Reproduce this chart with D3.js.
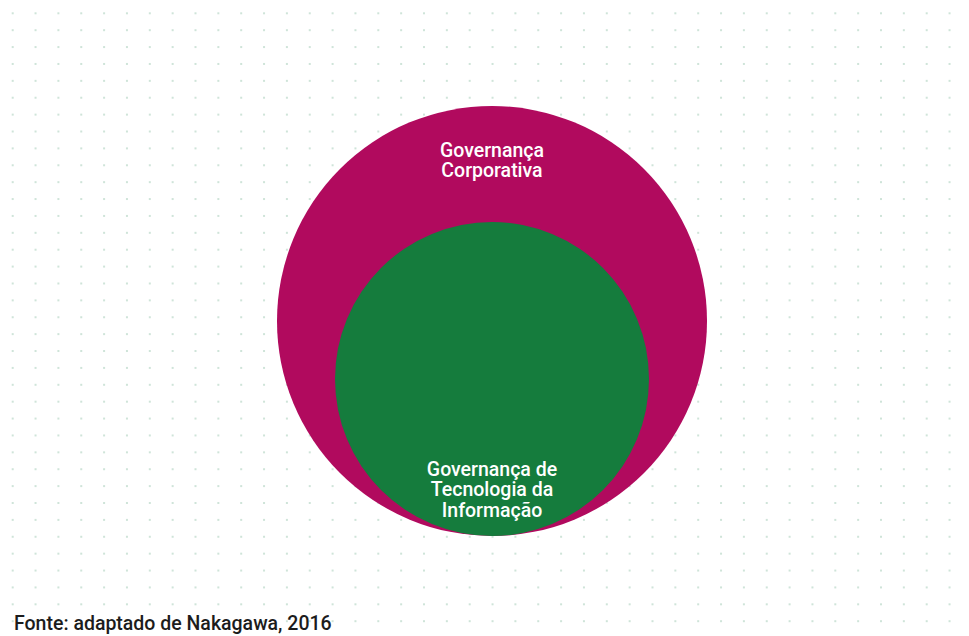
<!DOCTYPE html>
<html>
<head>
<meta charset="utf-8">
<script src="https://cdn.jsdelivr.net/npm/d3@7"></script>
<style>
  body { margin: 0; background: #fff; }
  svg { display: block; }
</style>
</head>
<body>
<div id="chart"></div>
<script>
// nested sets: outer = corporate governance, inner = IT governance
var circleNames = ["Governança Corporativa", "Governança de Tecnologia da Informação"];
var circleCx = [492, 492];
var circleCy = [321, 379];
var circleR = [215, 157];
var circleColors = ["#b10a5e", "#157c3d"];
var labelLines = [["Governança", "Corporativa"], ["Governança de", "Tecnologia da", "Informação"]];
var labelY = [157, 476];
var sourceText = "Fonte: adaptado de Nakagawa, 2016";

var svgWidth = 969;
var svgHeight = 636;

var svg = d3.select("#chart")
    .append("svg")
    .attr("width", svgWidth)
    .attr("height", svgHeight);

// dotted background grid
var dotCols = d3.range(43);
var dotRows = d3.range(37);
var xDot = d3.scaleLinear().domain([0, 42]).range([12.7, 972.4]);
var yDot = d3.scaleLinear().domain([0, 36]).range([13.3, 621.2]);

var dots = [];
dotRows.forEach(function(r) {
    dotCols.forEach(function(c) { dots.push({r: r, c: c}); });
});

svg.append("g")
    .selectAll("rect")
    .data(dots)
    .enter()
    .append("rect")
    .attr("x", d => xDot(d.c) - 1)
    .attr("y", d => yDot(d.r) - 1)
    .attr("width", 2)
    .attr("height", 2)
    .attr("fill", "#cfe4d9");

var sets = circleNames.map(function(n, i) {
    return {name: n, cx: circleCx[i], cy: circleCy[i], r: circleR[i], color: circleColors[i], lines: labelLines[i], ly: labelY[i]};
});

svg.selectAll("circle.set")
    .data(sets)
    .enter()
    .append("circle")
    .attr("class", "set")
    .attr("cx", d => d.cx)
    .attr("cy", d => d.cy)
    .attr("r", d => d.r)
    .attr("fill", d => d.color);

sets.forEach(function(s) {
    var t = svg.append("text")
        .attr("x", s.cx)
        .attr("y", s.ly)
        .attr("text-anchor", "middle")
        .attr("fill", "#ffffff")
        .style("font-family", "Roboto, 'Noto Sans', sans-serif")
        .style("font-size", "19.5px")
        .style("font-weight", "500");
    s.lines.forEach(function(line, i) {
        t.append("tspan")
            .attr("x", s.cx)
            .attr("dy", i === 0 ? 0 : 20.3)
            .text(line);
    });
});

svg.append("text")
    .attr("x", 14)
    .attr("y", 630)
    .attr("fill", "#1c1c1c")
    .style("font-family", "Roboto, 'Noto Sans', sans-serif")
    .style("font-size", "19.5px")
    .style("font-weight", "500")
    .text(sourceText);
</script>
</body>
</html>
